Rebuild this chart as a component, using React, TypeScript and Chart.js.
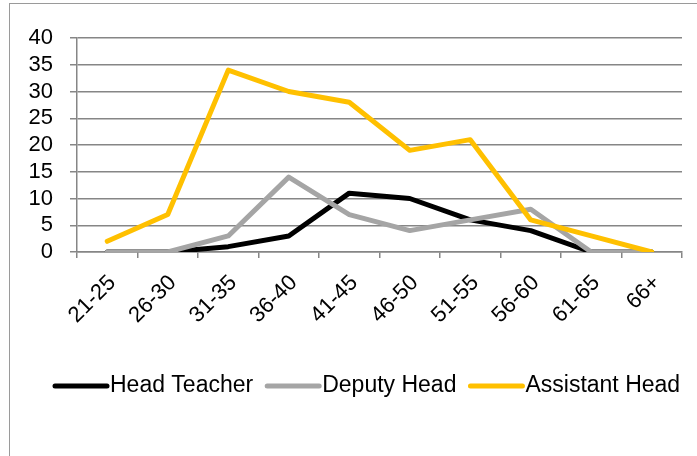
import React, { useEffect, useRef } from "react";
import { Chart, registerables } from "chart.js";

Chart.register(...registerables);

const categories = ["21-25", "26-30", "31-35", "36-40", "41-45", "46-50", "51-55", "56-60", "61-65", "66+"];
const headTeacher = [0, 0, 1, 3, 11, 10, 6, 4, 0, 0];
const deputyHead = [0, 0, 3, 14, 7, 4, 6, 8, 0, 0];
const assistantHead = [2, 7, 34, 30, 28, 19, 21, 6, 3, 0];
const seriesNames = ["Head Teacher", "Deputy Head", "Assistant Head"];
const seriesColors = ["#000000", "#a5a5a5", "#ffc000"];
const yMin = 0;
const yMax = 40;
const yStep = 5;

const FONT = "'Liberation Sans', Arial, sans-serif";
const GRID = "#868686";

const legendPlugin = {
  id: "customLegend",
  afterDraw(chart: any) {
    const ctx = chart.ctx;
    ctx.save();
    ctx.font = `23px ${FONT}`;
    ctx.textBaseline = "middle";
    ctx.textAlign = "left";
    let x = 55;
    const y = 386;
    chart.data.datasets.forEach((ds: any) => {
      ctx.strokeStyle = ds.borderColor;
      ctx.lineWidth = 5;
      ctx.lineCap = "round";
      ctx.beginPath();
      ctx.moveTo(x, y);
      ctx.lineTo(x + 52, y);
      ctx.stroke();
      ctx.fillStyle = "#000000";
      ctx.fillText(ds.label, x + 55, y);
      x += 55 + ctx.measureText(ds.label).width + 14;
    });
    ctx.restore();
  },
};

export default function App() {
  const ref = useRef<HTMLCanvasElement | null>(null);
  useEffect(() => {
    if (!ref.current) return;
    const data = [headTeacher, deputyHead, assistantHead];
    const chart = new Chart(ref.current, {
      type: "line",
      data: {
        labels: categories,
        datasets: data.map((d, i) => ({
          label: seriesNames[i],
          data: d,
          borderColor: seriesColors[i],
          backgroundColor: seriesColors[i],
          borderWidth: 5,
          pointRadius: 0,
          pointHoverRadius: 0,
          tension: 0,
          borderCapStyle: "round" as const,
          borderJoinStyle: "round" as const,
          order: 2 - i,
        })),
      },
      options: {
        animation: false,
        responsive: false,
        maintainAspectRatio: false,
        events: [],
        layout: { padding: { left: 0, top: 38, right: 15, bottom: 0 } },
        plugins: { legend: { display: false }, tooltip: { enabled: false } },
        scales: {
          x: {
            type: "category",
            offset: true,
            afterFit: (s: any) => {
              s.height = 456 - 252;
            },
            grid: {
              offset: true,
              drawOnChartArea: false,
              drawTicks: true,
              tickLength: 6,
              color: GRID,
              lineWidth: 1.5,
            },
            border: { display: true, color: GRID, width: 1.5 },
            ticks: {
              autoSkip: false,
              maxRotation: 45,
              minRotation: 45,
              padding: 12,
              labelOffset: 5,
              color: "#000000",
              font: { family: FONT, size: 22 },
            },
          },
          y: {
            min: yMin,
            max: yMax,
            afterFit: (s: any) => {
              s.width = 77;
            },
            grid: {
              color: GRID,
              lineWidth: 1.5,
              drawTicks: true,
              tickLength: 7,
            },
            border: { display: true, color: GRID, width: 1.5 },
            ticks: {
              stepSize: yStep,
              autoSkip: false,
              padding: 17,
              color: "#000000",
              font: { family: FONT, size: 22 },
            },
          },
        },
      },
      plugins: [legendPlugin],
    });
    return () => chart.destroy();
  }, []);

  return (
    <div
      style={{
        position: "absolute",
        left: 0,
        top: 0,
        width: 697,
        height: 456,
        overflow: "hidden",
        background: "#ffffff",
      }}
    >
      <div
        style={{
          position: "absolute",
          left: 9,
          top: 3,
          width: 760,
          height: 500,
          border: "1.5px solid #9a9a9a",
          boxSizing: "border-box",
        }}
      />
      <canvas
        ref={ref}
        width={697}
        height={456}
        style={{ position: "absolute", left: 0, top: 0, width: 697, height: 456 }}
      />
    </div>
  );
}
